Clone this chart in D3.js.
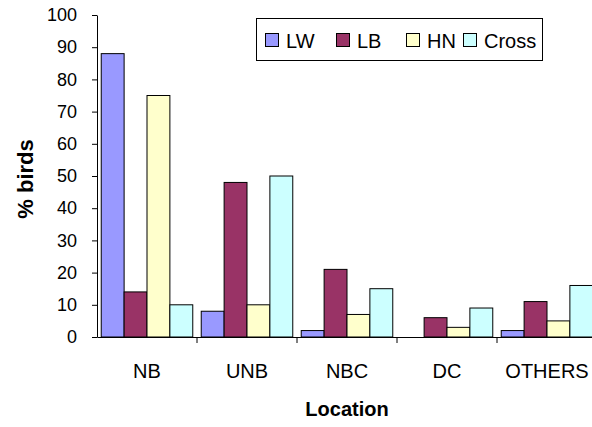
<!DOCTYPE html>
<html><head><meta charset="utf-8">
<script src="https://cdn.jsdelivr.net/npm/d3@7"></script>
<style>body{margin:0;background:#fff}svg{display:block;font-family:"Liberation Sans",Arial,sans-serif}</style>
</head><body>
<svg id="c" width="592" height="427"></svg>
<script>
const categories = ["NB","UNB","NBC","DC","OTHERS"];
const seriesNames = ["LW","LB","HN","Cross"];
const LW = [88, 8, 2, 0, 2];
const LB = [14, 48, 21, 6, 11];
const HN = [75, 10, 7, 3, 5];
const Cross = [10, 50, 15, 9, 16];
const yTicks = [0,10,20,30,40,50,60,70,80,90,100];
const colors = ["#9999FF","#993366","#FFFFCC","#CCFFFF"];
const seriesValues = [LW, LB, HN, Cross];

const svg = d3.select("#c");
const FF = "Liberation Sans, Arial, sans-serif";
const x0 = 97, x1 = 597, yTop = 15, yBot = 337;
const x = d3.scaleBand().domain(categories).range([x0, x1]).paddingInner(0).paddingOuter(0);
const xs = d3.scaleBand().domain(seriesNames).range([0, x.bandwidth()]).paddingInner(0).paddingOuter(0.185);
const y = d3.scaleLinear().domain([0,100]).range([yBot, yTop]);

// bars
categories.forEach((c, ci) => {
  seriesNames.forEach((s, si) => {
    const v = seriesValues[si][ci];
    svg.append("rect")
      .attr("x", x(c) + xs(s))
      .attr("y", y(v))
      .attr("width", xs.bandwidth())
      .attr("height", yBot - y(v))
      .attr("fill", colors[si])
      .attr("stroke", "#000").attr("stroke-width", 1);
  });
});

// y axis
const ya = svg.append("g").attr("transform", `translate(${x0},0)`)
  .call(d3.axisLeft(y).tickValues(yTicks).tickSize(5).tickPadding(15).tickSizeOuter(0));
ya.select(".domain").attr("stroke", "#000");
ya.selectAll("line").attr("stroke", "#000");
ya.selectAll("text").attr("font-size", 18).attr("fill", "#000").attr("font-family", FF);

// x axis
const xa = svg.append("g").attr("transform", `translate(0,${yBot})`)
  .call(d3.axisBottom(x).tickSize(0).tickSizeOuter(0));
xa.select(".domain").attr("stroke", "#000");
xa.selectAll("text").attr("font-size", 20).attr("fill", "#000").attr("font-family", FF)
  .attr("y", 41).attr("dy", 0);
// ticks between categories
categories.forEach((c, i) => {
  const xx = x(c) + x.bandwidth();
  svg.append("line").attr("x1", xx).attr("x2", xx).attr("y1", yBot).attr("y2", yBot + 6).attr("stroke", "#000");
});

// axis titles
svg.append("text").attr("transform", `translate(33,${(yTop+yBot)/2 + 3}) rotate(-90)`)
  .attr("text-anchor", "middle").attr("font-size", 22).attr("font-weight", "bold").text("% birds");
svg.append("text").attr("x", 347).attr("y", 416)
  .attr("text-anchor", "middle").attr("font-size", 20).attr("font-weight", "bold").text("Location");

// legend
const lg = svg.append("g");
lg.append("rect").attr("x", 256.5).attr("y", 18.5).attr("width", 286).attr("height", 42)
  .attr("fill", "#fff").attr("stroke", "#000");
const lx = [265, 336, 406, 463];
seriesNames.forEach((s, i) => {
  lg.append("rect").attr("x", lx[i] + 0.5).attr("y", 33.5).attr("width", 13).attr("height", 13)
    .attr("fill", colors[i]).attr("stroke", "#000");
  lg.append("text").attr("x", lx[i] + 21).attr("y", 48).attr("font-size", 20).text(s);
});
</script>
</body></html>
